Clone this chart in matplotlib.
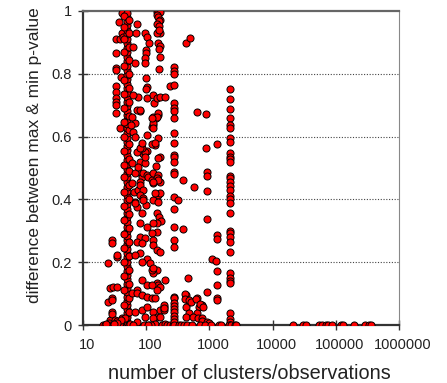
import matplotlib
matplotlib.use("Agg")
import matplotlib.pyplot as plt
import matplotlib.transforms as mtransforms
from matplotlib.ticker import FixedLocator, FixedFormatter

plt.rcParams['font.family'] = ['Liberation Sans', 'DejaVu Sans']

# points left of the main column (x ~ 20-43)
left_x = [21, 22, 25, 25, 27, 27, 29, 29, 29, 29, 29, 29, 30, 32, 34, 34, 34,
          33, 33, 33, 33, 33, 33, 33, 33, 33, 33, 38, 38, 40, 37, 41, 43, 41,
          26, 28, 31, 36, 39, 42, 24, 35]
left_y = [0.0, 0.0, 0.197, 0.074, 0.118, 0.016, 0.27, 0.26, 0.085, 0.08, 0.04, 0.035,
          0.122, 0.017, 0.122, 0.217, 0.223,
          0.91, 0.866, 0.818, 0.812, 0.76, 0.742, 0.722, 0.71, 0.70, 0.676, 0.91, 0.627,
          0.79, 0.965, 0.93, 0.917, 0.994,
          0.005, 0.0, 0.003, 0.0, 0.008, 0.022, 0.0, 0.012]

# main dense column (x ~ 49)
main_y = [0.0, 0.011, 0.024, 0.037, 0.05, 0.063, 0.078, 0.09, 0.104, 0.119, 0.131,
          0.146, 0.16, 0.172, 0.188, 0.201, 0.215, 0.23, 0.243, 0.257, 0.272, 0.285,
          0.3, 0.313, 0.327, 0.343, 0.356, 0.37, 0.384, 0.398, 0.413, 0.427, 0.44,
          0.456, 0.47, 0.483, 0.498, 0.512, 0.527, 0.54, 0.556, 0.569, 0.583, 0.597,
          0.611, 0.626, 0.64, 0.654, 0.668, 0.683, 0.697, 0.711, 0.726, 0.74, 0.754,
          0.768, 0.783, 0.797, 0.812, 0.826, 0.84, 0.855, 0.869, 0.883, 0.898, 0.912,
          0.926, 0.94, 0.955, 0.968, 0.982, 0.995]
side_a_y = [0.985, 0.95, 0.91, 0.87, 0.825, 0.78, 0.735, 0.69, 0.645, 0.6, 0.555,
            0.51, 0.47, 0.425, 0.38, 0.335, 0.29, 0.245, 0.2, 0.155, 0.11, 0.065, 0.02]
side_b_y = [0.97, 0.93, 0.885, 0.845, 0.8, 0.755, 0.71, 0.665, 0.62, 0.575, 0.53,
            0.49, 0.445, 0.4, 0.355, 0.31, 0.265, 0.22, 0.175, 0.13, 0.085, 0.04, 0.0]

# scattered region x ~ 55-240, upper half
mid_x = [71, 68, 61, 66, 74, 61, 79, 71, 66, 59, 95, 102, 110, 98, 98, 95, 95, 98,
         102, 98, 102, 127, 131, 146, 163, 196, 152, 127, 122, 127, 141, 152, 152,
         136, 122, 102, 88, 79, 71, 82, 95, 163, 152, 79, 95, 59, 74, 66, 234, 85,
         136, 146, 127, 127, 57, 61, 79, 122, 146, 152, 163, 146, 155, 163, 157,
         150, 160, 165, 150, 155, 163, 158, 165, 157, 160]
mid_y = [0.96, 0.93, 0.886, 0.834, 0.726, 0.732, 0.68, 0.685, 0.643, 0.663, 0.93,
         0.917, 0.898, 0.876, 0.866, 0.85, 0.834, 0.787, 0.758, 0.75, 0.722, 0.732,
         0.707, 0.722, 0.726, 0.726, 0.669, 0.663, 0.631, 0.637, 0.659, 0.675, 0.596,
         0.573, 0.576, 0.554, 0.545, 0.557, 0.551, 0.567, 0.551, 0.535, 0.532, 0.519,
         0.516, 0.516, 0.487, 0.484, 0.761, 0.564, 0.58, 0.662, 0.643, 0.627, 0.637,
         0.615, 0.685, 0.659, 0.997, 0.997, 0.997, 0.987, 0.981, 0.971, 0.968, 0.959,
         0.952, 0.93, 0.93, 0.898, 0.889, 0.879, 0.854, 0.815, 0.94]

# scattered region x ~ 30-240, lower half
low_x = [59, 66, 63, 71, 74, 85, 79, 88, 102, 106, 79, 88, 79, 88, 66, 98, 85,
         122, 127, 163, 152, 127, 146, 157, 169, 146, 127, 79, 102, 146, 122,
         79, 95, 71, 85, 127, 127, 146, 163, 79, 66, 102, 85, 113, 146, 127, 122,
         127, 146, 152, 163, 196, 85, 102, 122, 146, 71, 59, 71, 85, 102, 122,
         136, 163, 188, 188, 188, 188, 66, 85, 102, 127, 146, 71, 95, 127, 163,
         47, 40, 34, 31, 175, 196, 110, 140, 180, 200, 215, 240, 56, 62, 91, 118,
         23, 105, 270]
low_y = [0.452, 0.392, 0.424, 0.376, 0.43, 0.47, 0.455, 0.484, 0.478, 0.471, 0.446,
         0.43, 0.414, 0.404, 0.388, 0.382, 0.357, 0.462, 0.452, 0.455, 0.414, 0.398,
         0.357, 0.344, 0.331, 0.325, 0.325, 0.325, 0.312, 0.296, 0.293, 0.28, 0.277,
         0.264, 0.261, 0.271, 0.255, 0.239, 0.232, 0.229, 0.223, 0.21, 0.201, 0.197,
         0.175, 0.166, 0.175, 0.182, 0.134, 0.127, 0.121, 0.143, 0.143, 0.127, 0.127,
         0.111, 0.111, 0.102, 0.102, 0.096, 0.089, 0.086, 0.086, 0.048, 0.048, 0.057,
         0.064, 0.054, 0.041, 0.048, 0.057, 0.041, 0.025, 0.01, 0.025, 0.022, 0.025,
         0.022, 0.016, 0.006, 0.003, 0.0, 0.0, 0.0, 0.004, 0.0, 0.002, 0.0, 0.0,
         0.003, 0.0, 0.0, 0.0, 0.004, 0.0, 0.0]

mid2_x = [79, 85, 95, 127, 152, 146, 163, 152, 127, 136, 152, 88, 66, 102, 74, 141]
mid2_y = [0.564, 0.58, 0.535, 0.484, 0.478, 0.468, 0.42, 0.462, 0.455, 0.42, 0.392,
          0.398, 0.598, 0.605, 0.503, 0.505]

# column around x ~ 280
col280_y = [0.822, 0.81, 0.80, 0.764, 0.707, 0.69, 0.68, 0.66, 0.61, 0.58, 0.541,
            0.535, 0.52, 0.487, 0.482, 0.408, 0.369, 0.312, 0.271, 0.248, 0.089,
            0.085, 0.07, 0.06, 0.05, 0.04, 0.03, 0.02, 0.01, 0.0]

# x ~ 300-1500
right_x = [420, 500, 647, 897, 897, 1330, 900, 900, 900, 900, 376, 376, 580, 313,
           451, 1110, 1290, 1330, 1330, 1330, 1330, 900, 1330, 1330, 626, 430, 484,
           430, 776, 697, 404, 404, 467, 520, 603, 722, 800, 626, 484, 430, 560, 650,
           750, 776, 930, 1000, 330, 360, 390, 450, 540, 700, 850, 1050, 1400, 1550]
right_y = [0.898, 0.914, 0.678, 0.672, 0.564, 0.576, 0.487, 0.474, 0.427, 0.338,
           0.462, 0.306, 0.44, 0.398, 0.15, 0.21, 0.204, 0.172, 0.127, 0.086, 0.08,
           0.105, 0.287, 0.274, 0.086, 0.095, 0.073, 0.057, 0.064, 0.057, 0.1, 0.083,
           0.08, 0.074, 0.083, 0.067, 0.058, 0.038, 0.038, 0.026, 0.026, 0.022, 0.022,
           0.013, 0.01, 0.006, 0.0, 0.0, 0.0, 0.0, 0.0, 0.0, 0.0, 0.0, 0.0, 0.0]

# column around x ~ 2100
col2100_y = [0.752, 0.72, 0.688, 0.659, 0.637, 0.628, 0.596, 0.583, 0.548, 0.535,
             0.528, 0.52, 0.475, 0.468, 0.455, 0.443, 0.43, 0.41, 0.40, 0.388, 0.357,
             0.30, 0.293, 0.28, 0.265, 0.232, 0.165, 0.15, 0.14, 0.133, 0.038, 0.02,
             0.01, 0.0]
col2100_extra_x = [2050, 2200, 2500, 2650]

# large samples, all at zero difference
tail_x = [21000, 30000, 34000, 54000, 60000, 69000, 75000, 86000, 120000, 128000,
          197000, 287000, 334000, 366000]

xs = (left_x + [49] * len(main_y) + [45] * len(side_a_y) + [54] * len(side_b_y)
      + mid_x + low_x + mid2_x + [280] * len(col280_y) + right_x
      + [2100] * len(col2100_y) + col2100_extra_x + tail_x)
ys = (left_y + main_y + side_a_y + side_b_y + mid_y + low_y + mid2_y + col280_y
      + right_y + col2100_y + [0.0] * len(col2100_extra_x) + [0.0] * len(tail_x))

fig = plt.figure(figsize=(4.47, 3.83), dpi=100)
ax = fig.add_axes([0.1857, 0.1514, 0.7069, 0.8199])

ax.scatter(xs, ys, s=26, c='#ff0000', edgecolors='black', linewidths=0.7, zorder=3)

ax.set_xscale('log')
ax.set_xlim(10, 1000000)
ax.set_ylim(0, 1)

xt = [10, 100, 1000, 10000, 100000, 1000000]
ax.xaxis.set_major_locator(FixedLocator(xt))
ax.xaxis.set_major_formatter(FixedFormatter([str(v) for v in xt]))
ax.xaxis.set_minor_locator(FixedLocator([]))
ax.set_yticks([0, 0.2, 0.4, 0.6, 0.8, 1])
ax.set_yticklabels(['0', '0.2', '0.4', '0.6', '0.8', '1'])

for yv in [0.2, 0.4, 0.6, 0.8]:
    ax.axhline(yv, color='#444444', linestyle=(0, (1, 1.5)), linewidth=0.8, zorder=1)

for side in ['left', 'bottom']:
    ax.spines[side].set_color('#333333')
    ax.spines[side].set_linewidth(1.6)
ax.spines['top'].set_color('#666666')
ax.spines['top'].set_linewidth(1.6)
ax.spines['right'].set_color('#888888')
ax.spines['right'].set_linewidth(0.8)

ax.tick_params(axis='both', direction='inout', length=7, width=1, color='#333333',
               labelsize=10.5, labelcolor='#222222')
ax.tick_params(axis='x', pad=6)
ax.tick_params(axis='y', pad=4.5)

# x tick labels sit a few pixels right of their ticks in the reference
shift = mtransforms.ScaledTranslation(4 / 100, 0, fig.dpi_scale_trans)
for lab in ax.get_xticklabels():
    lab.set_transform(lab.get_transform() + shift)

ax.set_xlabel('number of clusters/observations', fontsize=14.3, color='#222222')
ax.xaxis.label.set_va('center')
ax.xaxis.set_label_coords(0.528, -0.153)
ax.set_ylabel('difference between max & min p-value', fontsize=12.5, color='#222222')
ax.yaxis.label.set_va('center')
ax.yaxis.set_label_coords(-0.152, 0.541)

fig.savefig('out.png', dpi=100)
